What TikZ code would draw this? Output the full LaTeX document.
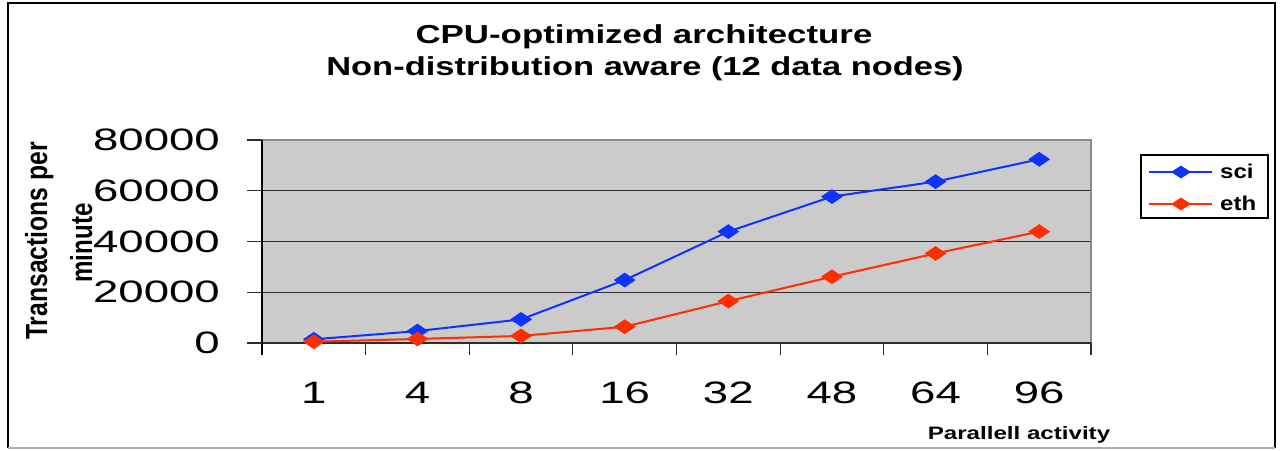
\documentclass[tikz,border=0pt]{standalone}
\usepackage{fontspec}
\usepackage{graphicx}
\setmainfont{Liberation Sans}
\usetikzlibrary{shapes.geometric}

\definecolor{plotbg}{RGB}{203,203,203}
\definecolor{sciblue}{RGB}{16,50,255}
\definecolor{ethred}{RGB}{255,45,0}
\definecolor{framegray}{RGB}{140,140,140}
\definecolor{gridgray}{RGB}{45,45,45}

% horizontal stretch of a piece of text
\newcommand\hstretch[2]{\scalebox{#1}[1]{#2}}

\begin{document}
\begin{tikzpicture}[x=1pt,y=-1pt,
  titletext/.style={font=\bfseries\fontsize{26}{30}\selectfont, inner sep=0pt, anchor=base},
  axisnum/.style={font=\fontsize{31}{36}\selectfont, inner sep=0pt},
  ylabeltext/.style={font=\bfseries\fontsize{30.5}{36}\selectfont, inner sep=0pt, anchor=base, rotate=90},
  xlabeltext/.style={font=\bfseries\fontsize{18}{22}\selectfont, inner sep=0pt, anchor=base},
  legtext/.style={font=\bfseries\fontsize{20}{24}\selectfont, inner sep=0pt, anchor=base west},
  scimark/.style={diamond, fill=sciblue, draw=none, inner sep=0pt, minimum width=22pt, minimum height=15pt},
  ethmark/.style={diamond, fill=ethred, draw=none, inner sep=0pt, minimum width=22pt, minimum height=15pt},
  sciline/.style={sciblue, line width=2pt, line join=round},
  ethline/.style={ethred, line width=2pt, line join=round},
  gridline/.style={gridgray, line width=1.2pt},
]
\useasboundingbox (0,0) rectangle (1281,450);

% outer frame
\draw[black, line width=2.5pt] (8,448) -- (8,3) -- (1275,3) -- (1275,448);
\draw[framegray!70, line width=1.5pt] (8,448) -- (1275,448);

% plot area
\fill[plotbg] (262,140) rectangle (1091,343);
\foreach \y in {190.75,241.5,292.25}
  \draw[gridline] (262,\y) -- (1091,\y);
\draw[framegray, line width=1.5pt] (262,140) -- (1091,140) -- (1091,343);
\draw[gridline] (262,343) -- (1091,343);
\draw[black, line width=1.2pt] (262,140) -- (262,355);
\foreach \y in {140,190.75,241.5,292.25,343}
  \draw[gridline] (247,\y) -- (262,\y);
\foreach \k in {1,...,8}
  \draw[gridline] ({262+103.625*\k},343) -- ({262+103.625*\k},355);

% value axis labels
\foreach \y/\lab in {343/0, 292.25/20000, 241.5/40000, 190.75/60000, 140/80000}
  \node[axisnum, anchor=east] (ytick\lab) at (220,\y) {\hstretch{1.47}{\lab}};

% category axis labels
\foreach \i/\lab in {1/1, 2/4, 3/8, 4/16, 5/32, 6/48, 7/64, 8/96}
  \node[axisnum] (xtick\i) at ({262+103.625*(\i-0.5)},393) {\hstretch{1.47}{\lab}};

% data points (values in thousands of transactions per minute)
\foreach \i/\s/\e in {1/1.46/0.5, 2/4.7/1.6, 3/9.3/2.8, 4/24.8/6.4,
                      5/43.9/16.5, 6/57.7/26.1, 7/63.6/35.3, 8/72.4/43.9} {
  \coordinate (s\i) at ({262+103.625*(\i-0.5)},{343-2.5375*\s});
  \coordinate (e\i) at ({262+103.625*(\i-0.5)},{343-2.5375*\e});
}

% series sci
\draw[sciline] (s1) -- (s2) -- (s3) -- (s4) -- (s5) -- (s6) -- (s7) -- (s8);
\foreach \i in {1,...,8}
  \node[scimark] (ms\i) at (s\i) {};

% series eth
\draw[ethline] (e1) -- (e2) -- (e3) -- (e4) -- (e5) -- (e6) -- (e7) -- (e8);
\foreach \i in {1,...,8}
  \node[ethmark] (me\i) at (e\i) {};

% titles
\node[titletext] (title1) at (644,43) {\hstretch{1.34}{CPU-optimized architecture}};
\node[titletext] (title2) at (645,75) {\hstretch{1.325}{Non-distribution aware (12 data nodes)}};

% axis titles
\node[ylabeltext] (ylab1) at (47,241) {\hstretch{0.81}{Transactions per}};
\node[ylabeltext] (ylab2) at (92,243) {\hstretch{0.79}{minute}};
\node[xlabeltext] (xlab) at (1019,439) {\hstretch{1.34}{Parallell activity}};

% legend
\node[draw=black, line width=1.5pt, fill=white, minimum width=127pt, minimum height=63pt, inner sep=0pt] (legend) at (1204.5,186.5) {};
\coordinate (lsa) at (1149,172);
\coordinate (lsb) at (1212,172);
\coordinate (lea) at (1149,204);
\coordinate (leb) at (1212,204);
\draw[sciblue, line width=1.5pt] (lsa) -- (lsb);
\draw[ethred, line width=1.5pt] (lea) -- (leb);
\node[scimark, minimum width=20pt, minimum height=13pt] (lsm) at (1181,172) {};
\node[ethmark, minimum width=20pt, minimum height=13pt] (lem) at (1181,204) {};
\node[legtext] (lsci) at (1220,178) {\hstretch{1.2}{sci}};
\node[legtext] (leth) at (1220,210) {\hstretch{1.2}{eth}};
\end{tikzpicture}
\end{document}
